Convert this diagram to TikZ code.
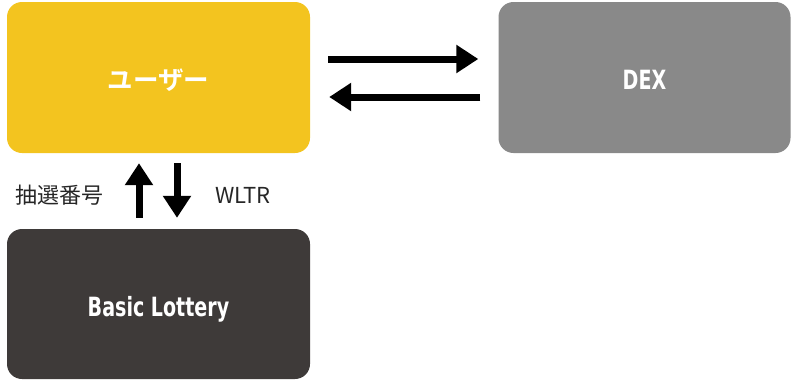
\documentclass[tikz,border=0pt]{standalone}
\usepackage{fontspec}
\usetikzlibrary{arrows.meta}
\newfontfamily\jpfont{Noto Sans CJK JP}
\newfontfamily\jpbold{Noto Sans CJK JP Bold}
\newfontfamily\condfont[FakeStretch=0.8]{DejaVu Sans Condensed Bold}
\definecolor{uyellow}{HTML}{F3C41F}
\definecolor{dexgray}{HTML}{898989}
\definecolor{lotdark}{HTML}{3E3A39}
\begin{document}
\begin{tikzpicture}[x=1pt,y=-1pt,
  box/.style={rectangle,rounded corners=15pt,minimum width=303pt,minimum height=151pt,inner sep=0pt,text=white},
  bigarrow/.style={line width=7pt,-{Triangle[length=22pt,width=27pt]}},
  lbl/.style={inner sep=0pt,text=black!85}]
\useasboundingbox (0,0) rectangle (793,381);
\node[box,fill=uyellow,text height=26.5pt,text depth=3pt] (user) at (158.5,77.5) {\jpbold\fontsize{25.5}{28}\selectfont ユーザー};
\node[box,fill=dexgray,minimum width=292pt,text height=24pt,text depth=0pt] (dex) at (644.5,77.5) {\condfont\fontsize{26.5}{28}\selectfont DEX};
\node[box,fill=lotdark,minimum height=150pt,text height=24pt,text depth=0pt] (lot) at (158.5,304) {\condfont\fontsize{26.5}{28}\selectfont Basic Lottery};
\draw[bigarrow,shorten <=18pt,shorten >=20pt] ([yshift=18.5pt]user.east) -- ([yshift=18.5pt]dex.west);
\draw[bigarrow,shorten <=18pt,shorten >=19pt] ([yshift=-19.5pt]dex.west) -- ([yshift=-19.5pt]user.east);
\draw[bigarrow,shorten <=11pt,shorten >=10pt] ([xshift=-19.5pt]lot.north) -- ([xshift=-19.5pt]user.south);
\draw[bigarrow,shorten <=10pt,shorten >=11pt] ([xshift=18.5pt]user.south) -- ([xshift=18.5pt]lot.north);
\node[lbl] (num) at (60,195) {\jpfont\fontsize{22}{24}\selectfont 抽選番号};
\node[lbl] (wltr) at (243,195) {\jpfont\fontsize{22}{24}\selectfont WLTR};
\end{tikzpicture}
\end{document}
